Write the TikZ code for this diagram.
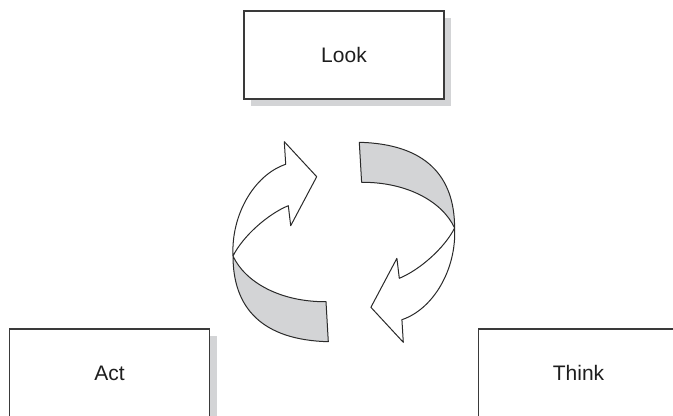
\documentclass[tikz,border=0pt]{standalone}
\usepackage{fontspec}
\setmainfont{Liberation Sans}
\usetikzlibrary{shadows}
\definecolor{boxline}{HTML}{3A3A3A}
\definecolor{arrline}{HTML}{2A2A2A}
\definecolor{shade}{HTML}{D3D4D6}
\definecolor{txt}{HTML}{1E1E1E}
\newcommand\ribbonarrow{%
  % front (white) face with arrow head
  \path[ribbonface] (285.7,164.3) -- (284.3,141.7) -- (316.7,176.7) -- (290.7,225.7) -- (288.3,205.7)
     .. controls (268,214) and (243,236) .. (233,256)
     .. controls (231,215) and (254,175) .. cycle;
  % back (shaded) face
  \path[ribbonback] (233,256) .. controls (233,308) and (262,340) .. (328.3,341.7)
     -- (326,301.7) .. controls (280,302) and (245,282) .. cycle;
}
\begin{document}
\begin{tikzpicture}[x=0.75pt,y=-0.75pt,
  labelbox/.style={draw=boxline, line width=0.85pt, fill=white,
    minimum width=150pt, minimum height=66pt, inner sep=0pt,
    font=\fontsize{15.75}{18}\selectfont, text=txt,
    general shadow={fill=shade, shadow xshift=5.25pt, shadow yshift=-5.25pt}},
  ribbonface/.style={draw=arrline, line width=0.75pt, line join=round, fill=white},
  ribbonback/.style={draw=arrline, line width=0.75pt, line join=round, fill=shade}]
\useasboundingbox (0,0) rectangle (673,416);
\node[labelbox] (look) at (344,55) {Look};
\node[labelbox] (act) at (109.5,373) {Act};
\node[labelbox] (think) at (578.5,373) {Think};
\begin{scope}
  \ribbonarrow
\end{scope}
\begin{scope}[rotate around={180:(343.8,242)}]
  \ribbonarrow
\end{scope}
\end{tikzpicture}
\end{document}
